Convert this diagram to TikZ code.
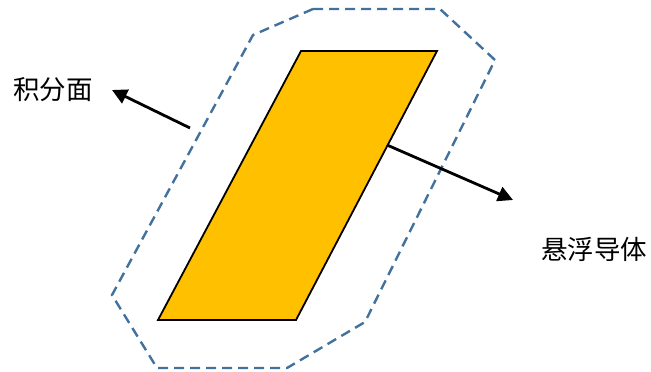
\documentclass[tikz,border=0pt]{standalone}
\usepackage{fontspec}
\newfontfamily\cjk{Noto Sans CJK SC}
\usetikzlibrary{arrows.meta}
\definecolor{cond}{HTML}{FFC000}
\definecolor{surf}{HTML}{41719C}
\tikzset{
  conductor/.style={fill=cond, draw=black, line width=1.8pt, line join=miter},
  surface/.style={draw=surf, line width=2.4pt, dash pattern=on 10pt off 6pt},
  pointer/.style={line width=2.8pt, -{Triangle[length=15pt,width=15pt]}},
  lbl/.style={font=\cjk\fontsize{26.5}{30}\selectfont, inner sep=0pt}
}
\begin{document}
\begin{tikzpicture}[x=1pt,y=-1pt]
\useasboundingbox (0,0) rectangle (651,372);
% integration surface
\draw[surface] (313,9) -- (440,9) -- (495,60) -- (365,322) -- (287,368) -- (157,368) -- (112,295) -- (253,35) -- cycle;
% floating conductor
\draw[conductor] (301,51) -- (437,51) -- (296,320) -- (158,320) -- cycle;
\node[lbl] (s) at (53,90) {积分面};
\node[lbl] (c) at (594,249) {悬浮导体};
\coordinate (a1) at (190,128);
\coordinate (a1e) at (112,90);
\coordinate (a2) at (387,145);
\coordinate (a2e) at (513,200);
\draw[pointer] (a1) -- (a1e);
\draw[pointer] (a2) -- (a2e);
\end{tikzpicture}
\end{document}
